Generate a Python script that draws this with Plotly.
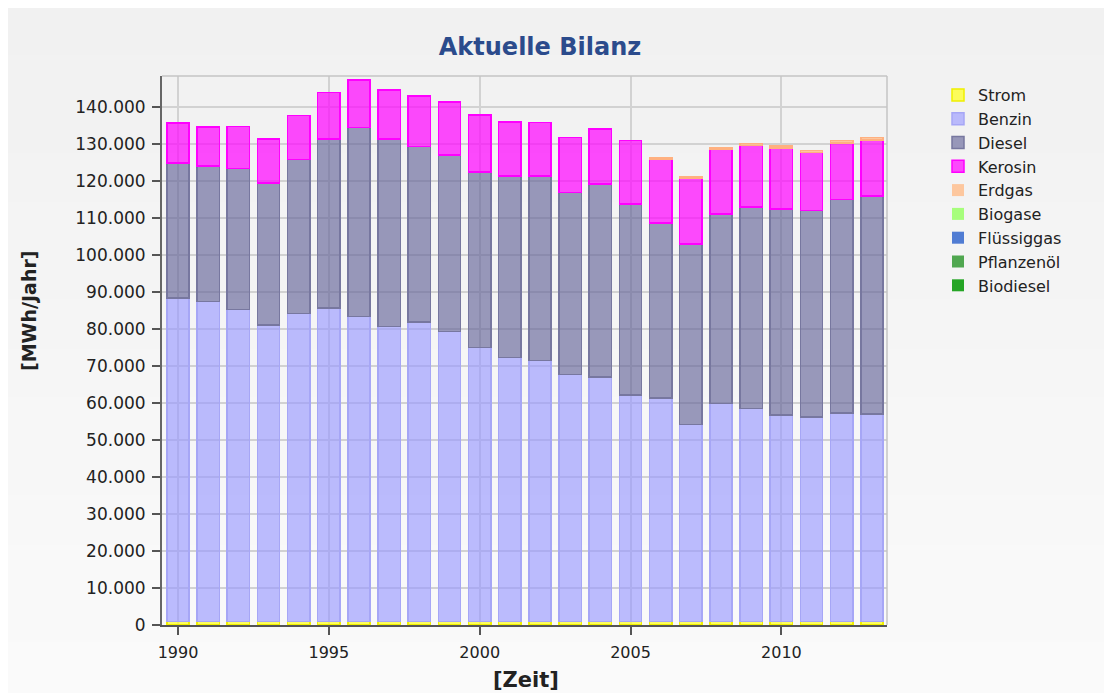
import plotly.graph_objects as go

years = list(range(1990, 2014))

strom = [1000] * 24
benzin = [87500, 86500, 84300, 80200, 83300, 84800, 82500, 79700, 81000, 78400, 74100, 71400,
          70500, 66800, 66100, 61200, 60400, 53300, 58900, 57600, 55800, 55300, 56300, 56100]
diesel = [36500, 36600, 38200, 38400, 41600, 45700, 51100, 50700, 47400, 47700, 47500, 49100,
          49900, 49200, 52200, 51700, 47400, 48800, 51300, 54400, 55700, 55800, 57800, 59000]
kerosin = [10800, 10600, 11300, 11900, 11900, 12500, 12800, 13300, 13700, 14400, 15300, 14600,
           14500, 14900, 14900, 17100, 17200, 17750, 17550, 16700, 16550, 15750, 15300, 15150]
erdgas = [0, 0, 0, 0, 0, 0, 0, 0, 0, 0, 0, 0,
          0, 0, 0, 0, 400, 450, 450, 500, 550, 550, 600, 650]
biogase = [0] * 24
fluessiggas = [0] * 24
pflanzenoel = [0] * 24
biodiesel = [0] * 24

series = [
    ("Strom", strom, "rgba(255,255,40,0.75)", "#f0f000"),
    ("Benzin", benzin, "rgba(153,153,255,0.65)", "#a6a6f6"),
    ("Diesel", diesel, "rgba(102,102,153,0.65)", "#77779f"),
    ("Kerosin", kerosin, "rgba(255,0,255,0.7)", "#ff00ff"),
    ("Erdgas", erdgas, "rgba(255,187,136,0.8)", "#ffb080"),
    ("Biogase", biogase, "rgba(153,255,102,0.85)", "#88ee55"),
    ("Flüssiggas", fluessiggas, "rgba(51,102,204,0.85)", "#3366cc"),
    ("Pflanzenöl", pflanzenoel, "rgba(51,153,51,0.85)", "#339933"),
    ("Biodiesel", biodiesel, "rgba(0,150,0,0.85)", "#009600"),
]

fig = go.Figure()
for name, vals, fill, line in series:
    widths = [1.5 if v > 0 else 0 for v in vals]
    fig.add_trace(go.Bar(
        x=years, y=vals, name=name,
        marker=dict(color=fill, line=dict(color=line, width=widths)),
        hovertemplate="%{x}: %{y:,d}<extra>" + name + "</extra>",
    ))

# the page body has an 8px margin; work in screen pixels and convert
OFF = 8
W, H = 1112 - OFF, 693 - OFF
# plot area in screen pixels
SL, SR, ST, SB = 162, 887, 76, 625
PL, PR, PT, PB = SL - OFF, SR - OFF, ST - OFF, SB - OFF
pw, ph = PR - PL, PB - PT


def sx(px):
    return (px - OFF - PL) / pw


def sy(py):
    return (PB - (py - OFF)) / ph


shapes = []
# grey background with a soft vertical gradient
nb = 14
for i in range(nb):
    y0 = OFF + H * i / nb
    y1 = OFF + H * (i + 1) / nb
    g = int(round(241 + (250 - 241) * i / (nb - 1)))
    shapes.append(dict(type="rect", xref="paper", yref="paper", layer="below",
                       x0=sx(OFF - 2), x1=sx(1112 + 4), y0=sy(y1 + 1), y1=sy(y0 - 2),
                       line=dict(width=0), fillcolor=f"rgb({g},{g},{g})"))
# light frame top/right
shapes.append(dict(type="line", xref="paper", yref="paper", layer="above",
                   x0=0, x1=1, y0=1, y1=1, line=dict(color="#c4c4c4", width=1.5)))
shapes.append(dict(type="line", xref="paper", yref="paper", layer="above",
                   x0=1, x1=1, y0=0, y1=1, line=dict(color="#c4c4c4", width=1.5)))

font_family = "DejaVu Sans, Verdana, sans-serif"

annotations = [
    dict(text="<b>[MWh/Jahr]</b>", textangle=-90, xref="paper", yref="paper",
         x=sx(29), y=sy(311), xanchor="center", yanchor="middle", showarrow=False,
         font=dict(family=font_family, size=19, color="#222222")),
    dict(text="<b>[Zeit]</b>", xref="paper", yref="paper",
         x=sx(526), y=sy(680), xanchor="center", yanchor="middle", showarrow=False,
         font=dict(family=font_family, size=21, color="#222222")),
]

fig.update_layout(
    width=W, height=H,
    margin=dict(l=PL, r=W - PR, t=PT, b=H - PB, pad=0),
    paper_bgcolor="#f4f4f4",
    plot_bgcolor="#f8f8f8",
    barmode="stack",
    bargap=0.26,
    separators=",.",
    shapes=shapes,
    annotations=annotations,
    font=dict(family=font_family, size=16, color="#222222"),
    title=dict(text="<b>Aktuelle Bilanz</b>", x=sx(540), xref="paper", xanchor="center",
               y=1 - (47 - OFF) / H, yref="container", yanchor="middle",
               font=dict(family=font_family, size=24, color="#2b4b8c")),
    legend=dict(x=sx(938), y=sy(78), xanchor="left", yanchor="top",
                traceorder="normal", bgcolor="rgba(0,0,0,0)",
                font=dict(family=font_family, size=16, color="#222222"),
                itemclick=False),
    xaxis=dict(
        range=[1989.47, 2013.5],
        tickmode="array", tickvals=[1990, 1995, 2000, 2005, 2010],
        ticks="outside", ticklen=8, tickwidth=1.5, tickcolor="#555555",
        ticklabelstandoff=4,
        showline=True, linecolor="#555555", linewidth=2,
        showgrid=True, gridcolor="#d2d2d2", gridwidth=1.5,
        zeroline=False,
        tickfont=dict(size=16),
    ),
    yaxis=dict(
        range=[0, 148500],
        tickmode="linear", tick0=0, dtick=10000, tickformat=",d",
        ticks="outside", ticklen=8, tickwidth=1.5, tickcolor="#555555",
        ticklabelstandoff=3,
        showline=True, linecolor="#666666", linewidth=2,
        showgrid=True, gridcolor="#d2d2d2", gridwidth=1.5,
        zeroline=False,
        tickfont=dict(size=17),
    ),
)

fig.write_html("out.html")
